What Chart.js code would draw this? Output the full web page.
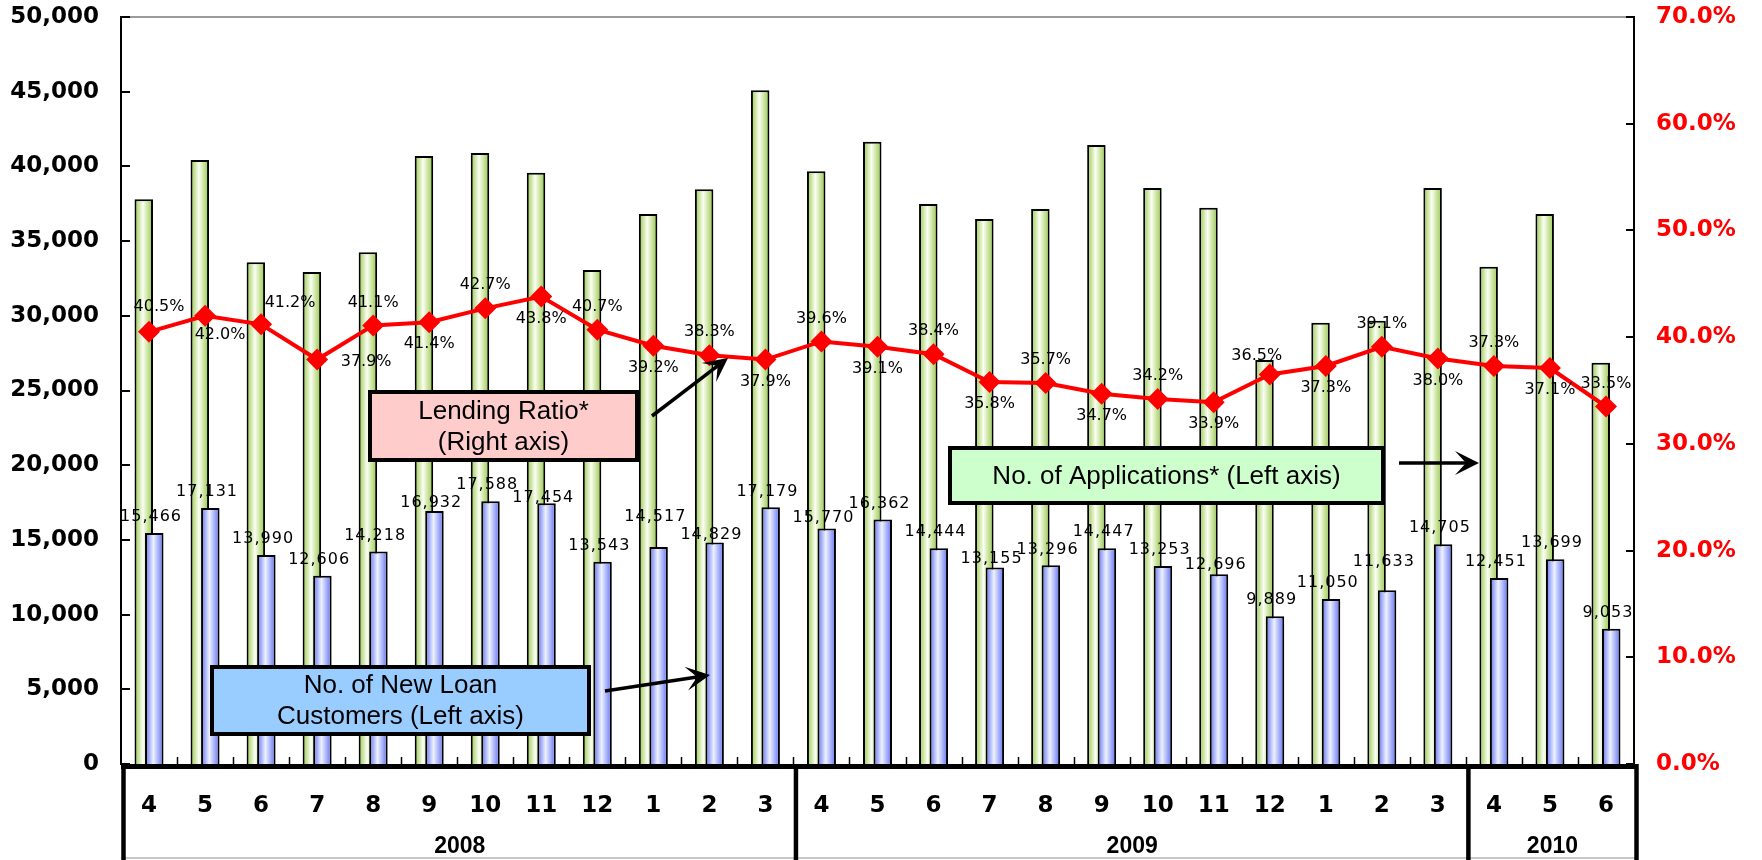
<!DOCTYPE html>
<html>
<head>
<meta charset="utf-8">
<script src="https://cdn.jsdelivr.net/npm/chart.js@4.4.1/dist/chart.umd.min.js"></script>
<style>
  html, body { margin: 0; padding: 0; background: #fff; }
  #wrap { width: 1762px; height: 860px; }
  canvas { display: block; }
</style>
</head>
<body>
<div id="wrap"><canvas id="chart" width="1762" height="860"></canvas></div>
<script>
// Monthly categories, grouped by fiscal year (April start)
const months = ['4','5','6','7','8','9','10','11','12','1','2','3',
                '4','5','6','7','8','9','10','11','12','1','2','3',
                '4','5','6'];
const fiscalYears = ['2008', '2009', '2010'];
const monthsInYear = [12, 12, 3];

// No. of Applications* (left axis)
const applications = [37800, 40430, 33580, 32930, 34250, 40700, 40900, 39580, 33070, 36810, 38470, 45090,
                      39670, 41650, 37480, 36480, 37150, 41430, 38550, 37240, 27040, 29540, 29670, 38550,
                      33290, 36810, 26860];

// No. of New Loan Customers (left axis)
const newLoanCustomers = [15466, 17131, 13990, 12606, 14218, 16932, 17588, 17454, 13543, 14517, 14829, 17179,
                          15770, 16362, 14444, 13155, 13296, 14447, 13253, 12696, 9889, 11050, 11633, 14705,
                          12451, 13699, 9053];

// Lending Ratio* in % (right axis)
const lendingRatio = [40.5, 42.0, 41.2, 37.9, 41.1, 41.4, 42.7, 43.8, 40.7, 39.2, 38.3, 37.9,
                      39.6, 39.1, 38.4, 35.8, 35.7, 34.7, 34.2, 33.9, 36.5, 37.3, 39.1, 38.0,
                      37.3, 37.1, 33.5];

// Axis ranges
const countAxisMax = 50000, countAxisStep = 5000;
const ratioAxisMax = 70, ratioAxisStep = 10;

const LINE = 0, APPS = 1, LOANS = 2;

// Horizontal cylinder-like shading for the bars
function barShade(edge, middle) {
  return (c) => {
    const el = c.element;
    if (!el || el.x === undefined || !el.width) return middle;
    const g = c.chart.ctx.createLinearGradient(el.x - el.width / 2, 0, el.x + el.width / 2, 0);
    g.addColorStop(0, edge);
    g.addColorStop(0.45, middle);
    g.addColorStop(1, edge);
    return g;
  };
}

// Blue bars sit in front of the green ones
const barLayering = {
  id: 'barLayering',
  beforeDatasetDraw(chart, args) {
    if (args.index === LOANS) return false;
  },
  afterDatasetDraw(chart, args) {
    if (args.index === APPS) chart.getDatasetMeta(LOANS).controller.draw();
  }
};

// Label nudges where a label would collide with a neighbour
const ratioLabelNudge = { 0: [10, -25], 1: [15, 19], 2: [29, -21], 3: [49, 2], 20: [-13, -19] };
const loanLabelLift = { 5: 8, 7: 5, 9: 30, 10: 8, 12: 11, 15: 9, 19: 9, 22: 28 };

const notes = [
  { x1: 370, y1: 392, x2: 637, y2: 460, fill: '#ffcccc', lines: ['Lending Ratio*', '(Right axis)'],
    arrow: [652, 416, 728, 358] },
  { x1: 212, y1: 667, x2: 589, y2: 734, fill: '#99ccff', lines: ['No. of New Loan', 'Customers (Left axis)'],
    arrow: [605, 691, 710, 675] },
  { x1: 950, y1: 448, x2: 1383, y2: 503, fill: '#ccffcc', lines: ['No. of Applications* (Left axis)'],
    arrow: [1399, 463, 1479, 463] }
];

function drawArrow(ctx, x1, y1, x2, y2) {
  const ang = Math.atan2(y2 - y1, x2 - x1);
  const dx = Math.cos(ang), dy = Math.sin(ang);
  const head = 24, wing = 12, notch = 13;
  ctx.lineWidth = 3.5;
  ctx.strokeStyle = '#000';
  ctx.beginPath();
  ctx.moveTo(x1, y1);
  ctx.lineTo(x2 - dx * notch, y2 - dy * notch);
  ctx.stroke();
  ctx.fillStyle = '#000';
  ctx.beginPath();
  ctx.moveTo(x2, y2);
  ctx.lineTo(x2 - dx * head - dy * wing, y2 - dy * head + dx * wing);
  ctx.lineTo(x2 - dx * notch, y2 - dy * notch);
  ctx.lineTo(x2 - dx * head + dy * wing, y2 - dy * head - dx * wing);
  ctx.closePath();
  ctx.fill();
}

const labelsAndNotes = {
  id: 'labelsAndNotes',
  afterDatasetsDraw(chart) {
    const ctx = chart.ctx;
    ctx.save();
    ctx.fillStyle = '#000';
    ctx.textAlign = 'center';
    ctx.textBaseline = 'middle';

    // customer counts above the blue bars
    ctx.font = '16px "DejaVu Sans"';
    try { ctx.letterSpacing = '1px'; } catch (e) {}
    const bars = chart.getDatasetMeta(LOANS).data;
    newLoanCustomers.forEach((v, i) => {
      const cx = chart.scales.x.getPixelForValue(i) + 2;
      const lift = loanLabelLift[i] !== undefined ? loanLabelLift[i] : 16;
      ctx.fillText(v.toLocaleString('en-US'), cx, bars[i].y - lift);
    });

    // lending ratio values, alternating above / below the line
    try { ctx.letterSpacing = '0px'; } catch (e) {}
    const pts = chart.getDatasetMeta(LINE).data;
    lendingRatio.forEach((v, i) => {
      const [dx, dy] = ratioLabelNudge[i] || [0, i % 2 === 0 ? -23 : 22];
      ctx.fillText(v.toFixed(1) + '%', pts[i].x + dx, pts[i].y + dy);
    });

    // call-out boxes
    notes.forEach(n => {
      ctx.fillStyle = n.fill;
      ctx.fillRect(n.x1, n.y1, n.x2 - n.x1, n.y2 - n.y1);
      ctx.strokeStyle = '#000';
      ctx.lineWidth = 4;
      ctx.strokeRect(n.x1, n.y1, n.x2 - n.x1, n.y2 - n.y1);
      ctx.fillStyle = '#000';
      ctx.font = '26px "Liberation Sans"';
      const cx = (n.x1 + n.x2) / 2, cy = (n.y1 + n.y2) / 2 + 1;
      n.lines.forEach((t, k) => ctx.fillText(t, cx, cy + (k - (n.lines.length - 1) / 2) * 31));
      drawArrow(ctx, ...n.arrow);
    });
    ctx.restore();
  }
};

// Plot frame, inward tick marks and the fiscal-year band under the month labels
const frame = {
  id: 'frame',
  afterDraw(chart) {
    const { ctx, chartArea: a, scales: { x, y, y2 } } = chart;
    ctx.save();
    ctx.strokeStyle = '#9a9a9a';
    ctx.lineWidth = 2;
    ctx.beginPath(); ctx.moveTo(a.left, a.top); ctx.lineTo(a.right, a.top); ctx.stroke();

    ctx.strokeStyle = '#000';
    ctx.lineWidth = 2;
    y.ticks.forEach(t => {
      const py = Math.round(y.getPixelForValue(t.value));
      ctx.beginPath(); ctx.moveTo(a.left, py); ctx.lineTo(a.left + 9, py); ctx.stroke();
    });
    y2.ticks.forEach(t => {
      const py = Math.round(y2.getPixelForValue(t.value));
      ctx.beginPath(); ctx.moveTo(a.right, py); ctx.lineTo(a.right - 8, py); ctx.stroke();
    });
    ctx.lineWidth = 1.5;
    for (let i = 1; i < months.length; i++) {
      const px = Math.round(x.getPixelForValue(i - 0.5)) + 0.5;
      ctx.beginPath(); ctx.moveTo(px, a.bottom); ctx.lineTo(px, a.bottom - 7); ctx.stroke();
    }

    // year band
    const bandBottom = 858;
    ctx.strokeStyle = '#b4b4b4';
    ctx.lineWidth = 1.5;
    ctx.beginPath(); ctx.moveTo(a.left, bandBottom); ctx.lineTo(a.right + 4, bandBottom); ctx.stroke();
    ctx.strokeStyle = '#000';
    ctx.lineWidth = 5;
    ctx.beginPath(); ctx.moveTo(a.left, a.bottom + 2.5); ctx.lineTo(a.right + 4, a.bottom + 2.5); ctx.stroke();
    ctx.lineWidth = 4.5;
    let start = 0;
    const edges = [x.getPixelForValue(-0.5) + 2.5];
    monthsInYear.forEach(n => { start += n; edges.push(x.getPixelForValue(start - 0.5) + 2.5); });
    edges.forEach(ex => {
      ctx.beginPath(); ctx.moveTo(ex, a.bottom); ctx.lineTo(ex, 860); ctx.stroke();
    });
    ctx.fillStyle = '#000';
    ctx.font = 'bold 23px "Liberation Sans"';
    ctx.textAlign = 'center';
    ctx.textBaseline = 'middle';
    fiscalYears.forEach((yr, k) => ctx.fillText(yr, (edges[k] + edges[k + 1]) / 2, 847));
    ctx.restore();
  }
};

Chart.defaults.font.family = '"DejaVu Sans"';

const axisFont = { family: '"DejaVu Sans"', size: 23, weight: 'bold' };

const chart = new Chart(document.getElementById('chart'), {
  type: 'bar',
  data: {
    labels: months,
    datasets: [
      {
        type: 'line',
        label: 'Lending Ratio*',
        data: lendingRatio,
        yAxisID: 'y2',
        order: 0,
        borderColor: '#ff0000',
        borderWidth: 4,
        tension: 0,
        pointStyle: 'rectRot',
        pointRadius: 11,
        pointHoverRadius: 11,
        pointBackgroundColor: '#ff0000',
        pointBorderColor: '#ff0000',
        pointBorderWidth: 0
      },
      {
        label: 'No. of Applications*',
        data: applications,
        yAxisID: 'y',
        order: 1,
        backgroundColor: barShade('#94c843', '#fbfef4'),
        borderColor: '#000',
        borderWidth: 2,
        categoryPercentage: 0.375,
        barPercentage: 1.76
      },
      {
        label: 'No. of New Loan Customers',
        data: newLoanCustomers,
        yAxisID: 'y',
        order: 2,
        backgroundColor: barShade('#5d70f2', '#eef1ff'),
        borderColor: '#000',
        borderWidth: 2,
        categoryPercentage: 0.375,
        barPercentage: 1.76
      }
    ]
  },
  options: {
    responsive: false,
    devicePixelRatio: 1,
    animation: false,
    layout: { padding: 0 },
    plugins: {
      legend: { display: false },
      tooltip: { enabled: false }
    },
    scales: {
      x: {
        grid: { display: false, drawTicks: false },
        border: { display: false },
        afterFit: s => { s.height = 96; },
        ticks: {
          autoSkip: false,
          maxRotation: 0,
          padding: 28,
          color: '#000',
          font: axisFont
        }
      },
      y: {
        position: 'left',
        min: 0,
        max: countAxisMax,
        grid: { display: false, drawTicks: false },
        border: { display: true, color: '#000', width: 2 },
        afterFit: s => { s.width = 121; s.paddingTop = 17; s.paddingBottom = 0; },
        ticks: {
          stepSize: countAxisStep,
          padding: 22,
          color: '#000',
          font: axisFont,
          callback: v => v.toLocaleString('en-US')
        }
      },
      y2: {
        position: 'right',
        min: 0,
        max: ratioAxisMax,
        grid: { display: false, drawTicks: false },
        border: { display: true, color: '#000', width: 2 },
        afterFit: s => { s.width = 1762 - 1634; s.paddingTop = 17; s.paddingBottom = 0; },
        ticks: {
          stepSize: ratioAxisStep,
          padding: 22,
          color: '#ff0000',
          font: axisFont,
          callback: v => v.toFixed(1) + '%'
        }
      }
    }
  },
  plugins: [barLayering, labelsAndNotes, frame]
});

// second pass so the bar shading can use the laid-out bar geometry
chart.update('none');
</script>
</body>
</html>
